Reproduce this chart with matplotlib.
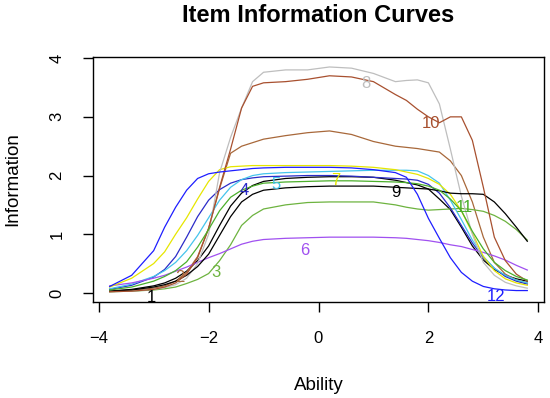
import numpy as np
import matplotlib

matplotlib.use("Agg")
import matplotlib.pyplot as plt

plt.rcParams.update({"font.family": ["Liberation Sans", "DejaVu Sans"]})

# ability grid the curves were read at
ability = [-3.8, -3.4, -3.0, -2.8, -2.6, -2.4, -2.2, -2.0, -1.8, -1.6, -1.4, -1.2, -1.0,
           -0.6, -0.2, 0.2, 0.6, 1.0, 1.4, 1.6, 1.8, 2.0, 2.2, 2.4, 2.6, 2.8, 3.0, 3.2,
           3.4, 3.6, 3.8]

item1 = [0.03, 0.06, 0.12, 0.17, 0.25, 0.37, 0.55, 0.80, 1.15, 1.48, 1.70, 1.83, 1.90,
         1.95, 1.97, 1.98, 1.98, 1.97, 1.92, 1.88, 1.84, 1.77, 1.60, 1.42, 1.12, 0.80,
         0.56, 0.40, 0.30, 0.24, 0.20]
item2 = [0.02, 0.04, 0.08, 0.12, 0.20, 0.35, 0.62, 1.10, 1.78, 2.38, 2.50, 2.56, 2.62,
         2.68, 2.73, 2.76, 2.70, 2.58, 2.50, 2.48, 2.46, 2.43, 2.40, 2.25, 2.00, 1.55,
         0.95, 0.52, 0.32, 0.22, 0.17]
item3 = [0.02, 0.03, 0.05, 0.07, 0.10, 0.16, 0.23, 0.33, 0.55, 0.82, 1.15, 1.32, 1.43,
         1.50, 1.54, 1.55, 1.55, 1.55, 1.50, 1.46, 1.43, 1.41, 1.42, 1.43, 1.44, 1.42,
         1.39, 1.32, 1.22, 1.08, 0.90]
item4 = [0.06, 0.13, 0.27, 0.40, 0.62, 0.95, 1.30, 1.58, 1.76, 1.87, 1.93, 1.96, 1.98,
         1.99, 2.00, 2.00, 1.99, 1.97, 1.95, 1.94, 1.92, 1.85, 1.70, 1.45, 1.15, 0.85,
         0.60, 0.42, 0.28, 0.20, 0.15]
item5 = [0.07, 0.15, 0.28, 0.38, 0.52, 0.72, 0.98, 1.28, 1.58, 1.80, 1.93, 2.00, 2.03,
         2.05, 2.06, 2.07, 2.08, 2.09, 2.09, 2.09, 2.08, 2.00, 1.87, 1.58, 1.25, 0.90,
         0.62, 0.42, 0.30, 0.22, 0.17]
item6 = [0.12, 0.17, 0.25, 0.30, 0.37, 0.44, 0.52, 0.60, 0.67, 0.75, 0.83, 0.88, 0.91,
         0.93, 0.94, 0.95, 0.95, 0.95, 0.94, 0.93, 0.91, 0.89, 0.86, 0.82, 0.79, 0.74,
         0.69, 0.63, 0.56, 0.47, 0.39]
item7 = [0.10, 0.25, 0.50, 0.70, 1.00, 1.28, 1.60, 1.90, 2.10, 2.15, 2.16, 2.17, 2.17,
         2.17, 2.17, 2.17, 2.16, 2.14, 2.10, 2.06, 2.02, 1.95, 1.85, 1.68, 1.40, 1.02,
         0.62, 0.38, 0.24, 0.17, 0.13]
item8 = [0.02, 0.03, 0.06, 0.09, 0.14, 0.25, 0.50, 1.00, 2.05, 2.65, 3.15, 3.60, 3.76,
         3.80, 3.80, 3.85, 3.83, 3.74, 3.60, 3.62, 3.63, 3.58, 3.22, 2.45, 1.65, 1.00,
         0.52, 0.30, 0.18, 0.12, 0.08]
item9 = [0.03, 0.05, 0.10, 0.14, 0.20, 0.30, 0.45, 0.66, 0.98, 1.30, 1.55, 1.68, 1.75,
         1.79, 1.81, 1.82, 1.82, 1.82, 1.80, 1.79, 1.78, 1.77, 1.74, 1.70, 1.69, 1.69,
         1.68, 1.55, 1.35, 1.12, 0.88]
item10 = [0.02, 0.03, 0.06, 0.10, 0.17, 0.32, 0.60, 1.10, 1.80, 2.45, 3.15, 3.52, 3.58,
          3.60, 3.64, 3.70, 3.68, 3.60, 3.38, 3.28, 3.13, 3.00, 2.90, 3.00, 3.00, 2.60,
          1.80, 0.95, 0.55, 0.32, 0.20]
item11 = [0.05, 0.10, 0.20, 0.28, 0.38, 0.53, 0.78, 1.08, 1.40, 1.63, 1.75, 1.82, 1.87,
          1.89, 1.90, 1.91, 1.91, 1.90, 1.89, 1.88, 1.86, 1.82, 1.75, 1.60, 1.40, 1.05,
          0.75, 0.52, 0.38, 0.28, 0.22]
item12 = [0.11, 0.30, 0.72, 1.12, 1.46, 1.75, 1.95, 2.03, 2.06, 2.08, 2.10, 2.12, 2.13,
          2.14, 2.14, 2.14, 2.13, 2.10, 2.05, 1.97, 1.68, 1.27, 0.93, 0.60, 0.35, 0.20,
          0.11, 0.07, 0.05, 0.04, 0.04]

items = [item1, item2, item3, item4, item5, item6, item7, item8, item9, item10, item11, item12]
item_names = [str(i) for i in range(1, 13)]
colors = ["#000000", "#A8683A", "#6DB33F", "#2B2BC8", "#45C4EC", "#A050F0",
          "#E6E600", "#BEBEBE", "#000000", "#A8502F", "#4BAF2B", "#1E1EFF"]

# where the item numbers sit on the plot
label_x = [-3.04, -2.53, -1.86, -1.35, -0.77, -0.25, 0.32, 0.87, 1.41, 2.05, 2.65, 3.23]
label_y = [-0.07, 0.27, 0.34, 1.75, 1.84, 0.73, 1.92, 3.57, 1.71, 2.89, 1.45, -0.06]

fig = plt.figure(figsize=(5.5, 3.98), dpi=100)
ax = fig.add_axes([93 / 550, 1 - 302 / 398, (544 - 93) / 550, (302 - 57) / 398])

for vals, c in zip(items, colors):
    ax.plot(ability, vals, color=c, lw=0.9)
for name, x, y, c in zip(item_names, label_x, label_y, colors):
    ax.text(x, y, name, color=c, fontsize=12, ha="center", va="center")

ax.set_xlim(-4.104, 4.104)
ax.set_ylim(-0.155, 4.02)
ax.set_xticks([-4, -2, 0, 2, 4])
ax.set_yticks([0, 1, 2, 3, 4])
ax.tick_params(length=7, width=1, labelsize=12)
ax.tick_params(axis="x", pad=14)
ax.tick_params(axis="y", pad=13.5)
for lab in ax.get_yticklabels():
    lab.set_rotation(90)
    lab.set_va("center")
for s in ax.spines.values():
    s.set_linewidth(1)
ax.set_xlabel("Ability", fontsize=13.5, labelpad=22)
ax.set_ylabel("Information", fontsize=13.5, labelpad=20)
ax.set_title("Item Information Curves", fontsize=17, fontweight="bold", pad=25.5)

fig.savefig("out.png", dpi=100)
